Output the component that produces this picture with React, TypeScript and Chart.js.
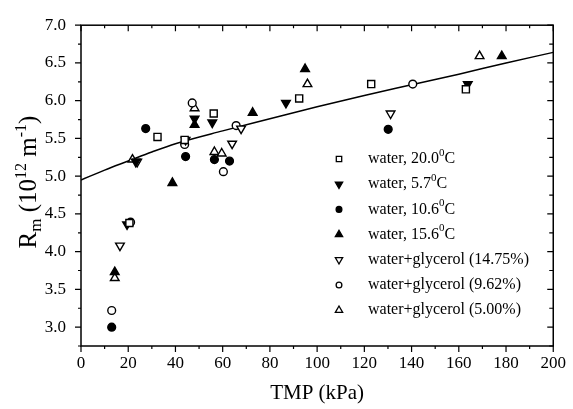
import React, { useEffect, useRef } from "react";
import { Chart, registerables } from "chart.js";

Chart.register(...registerables);

const FONT = "'Liberation Serif', 'Times New Roman', serif";

const X_TICKS = [0, 20, 40, 60, 80, 100, 120, 140, 160, 180, 200];
const Y_TICKS = [3.0, 3.5, 4.0, 4.5, 5.0, 5.5, 6.0, 6.5, 7.0];

// water, 20.0 °C (open square)
const water20_x = [20.5, 32.4, 43.9, 56.2, 92.4, 122.9, 163.0];
const water20_y = [4.38, 5.52, 5.48, 5.83, 6.03, 6.22, 6.15];
// water, 5.7 °C (filled down triangle)
const water57_x = [19.5, 23.2, 48.1, 55.6, 86.8, 163.8];
const water57_y = [4.36, 5.19, 5.76, 5.71, 5.97, 6.22];
// water, 10.6 °C (filled circle)
const water106_x = [13.0, 27.4, 44.3, 56.5, 62.9, 130.1];
const water106_y = [3.0, 5.63, 5.26, 5.22, 5.2, 5.62];
// water, 15.6 °C (filled up triangle)
const water156_x = [14.3, 38.7, 48.1, 72.7, 94.9, 178.2];
const water156_y = [3.73, 4.91, 5.68, 5.84, 6.42, 6.59];
// water+glycerol 14.75 % (open down triangle)
const gly1475_x = [16.5, 23.8, 44.3, 64.0, 67.8, 131.1];
const gly1475_y = [4.08, 5.19, 5.48, 5.43, 5.63, 5.83];
// water+glycerol 9.62 % (open circle)
const gly962_x = [13.0, 21.0, 43.9, 47.1, 60.3, 65.7, 140.5];
const gly962_y = [3.22, 4.39, 5.42, 5.97, 5.06, 5.67, 6.22];
// water+glycerol 5.00 % (open up triangle)
const gly500_x = [14.3, 21.8, 48.1, 56.5, 59.6, 95.9, 168.8];
const gly500_y = [3.65, 5.22, 5.9, 5.32, 5.3, 6.22, 6.59];

// fitted curve
const FIT_X = [0, 10, 20, 30, 40, 60, 80, 100, 120, 140, 160, 180, 200];
const FIT_Y = [4.95, 5.08, 5.2, 5.32, 5.43, 5.6, 5.76, 5.92, 6.07, 6.21, 6.35, 6.5, 6.64];

type Shape = "rect" | "circle" | "up" | "down";

const SERIES: { label: string; sup: string; tail: string; xs: number[]; ys: number[]; shape: Shape; filled: boolean }[] = [
  { label: "water, 20.0", sup: "0", tail: "C", xs: water20_x, ys: water20_y, shape: "rect", filled: false },
  { label: "water, 5.7", sup: "0", tail: "C", xs: water57_x, ys: water57_y, shape: "down", filled: true },
  { label: "water, 10.6", sup: "0", tail: "C", xs: water106_x, ys: water106_y, shape: "circle", filled: true },
  { label: "water, 15.6", sup: "0", tail: "C", xs: water156_x, ys: water156_y, shape: "up", filled: true },
  { label: "water+glycerol (14.75%)", sup: "", tail: "", xs: gly1475_x, ys: gly1475_y, shape: "down", filled: false },
  { label: "water+glycerol (9.62%)", sup: "", tail: "", xs: gly962_x, ys: gly962_y, shape: "circle", filled: false },
  { label: "water+glycerol (5.00%)", sup: "", tail: "", xs: gly500_x, ys: gly500_y, shape: "up", filled: false },
];

function drawMarker(ctx: CanvasRenderingContext2D, shape: Shape, filled: boolean, x: number, y: number, s: number) {
  ctx.save();
  ctx.beginPath();
  if (shape === "rect") {
    ctx.rect(x - s * 0.75, y - s * 0.75, s * 1.5, s * 1.5);
  } else if (shape === "circle") {
    ctx.arc(x, y, s * 0.8, 0, Math.PI * 2);
  } else {
    const d = shape === "up" ? 1 : -1;
    ctx.moveTo(x, y - d * s);
    ctx.lineTo(x + s * 0.87, y + d * s * 0.5);
    ctx.lineTo(x - s * 0.87, y + d * s * 0.5);
    ctx.closePath();
  }
  ctx.fillStyle = filled ? "#000" : "#fff";
  ctx.fill();
  ctx.lineWidth = 1.3;
  ctx.strokeStyle = "#000";
  ctx.stroke();
  ctx.restore();
}

const decorPlugin = {
  id: "decor",
  afterDraw(chart: any) {
    const ctx: CanvasRenderingContext2D = chart.ctx;
    const { left, right, top, bottom } = chart.chartArea;
    const xs = chart.scales.x;
    const ys = chart.scales.y;
    ctx.save();
    ctx.strokeStyle = "#000";
    ctx.lineWidth = 1.5;
    ctx.strokeRect(left, top, right - left, bottom - top);
    ctx.lineWidth = 1.2;
    ctx.beginPath();
    for (let v = 0; v <= 200; v += 10) {
      const px = xs.getPixelForValue(v);
      const major = v % 20 === 0;
      const len = major ? 6 : 3;
      ctx.moveTo(px, bottom);
      ctx.lineTo(px, bottom + len);
      ctx.moveTo(px, top);
      ctx.lineTo(px, top + len);
    }
    for (let k = 0; k <= 17; k++) {
      const v = 2.75 + k * 0.25;
      const py = ys.getPixelForValue(v);
      const major = k % 2 === 1;
      ctx.moveTo(left, py);
      ctx.lineTo(left - (major ? 6 : 3), py);
      ctx.moveTo(right, py);
      ctx.lineTo(right - (major ? 6 : 4), py);
    }
    ctx.stroke();

    // legend
    ctx.fillStyle = "#000";
    ctx.textBaseline = "middle";
    SERIES.forEach((s, i) => {
      const y = 159 + i * 25.2;
      drawMarker(ctx, s.shape, s.filled, 339, y, s.shape === "rect" || s.shape === "circle" ? 3.6 : 4.2);
      ctx.font = `16px ${FONT}`;
      let x = 368;
      ctx.textAlign = "left";
      ctx.fillText(s.label, x, y);
      x += ctx.measureText(s.label).width;
      if (s.sup) {
        ctx.font = `11px ${FONT}`;
        ctx.fillText(s.sup, x, y - 6);
        x += ctx.measureText(s.sup).width;
        ctx.font = `16px ${FONT}`;
        ctx.fillText(s.tail, x, y);
      }
    });

    // x title
    ctx.font = `21px ${FONT}`;
    ctx.textAlign = "center";
    ctx.textBaseline = "alphabetic";
    ctx.fillText("TMP (kPa)", (left + right) / 2, 399);

    // y title (rotated)
    const parts = [
      { t: "R", size: 25, dy: 0 },
      { t: "m", size: 17, dy: 5 },
      { t: " (10", size: 25, dy: 0 },
      { t: "12", size: 16, dy: -10 },
      { t: " m", size: 25, dy: 0 },
      { t: "-1", size: 16, dy: -10 },
      { t: ")", size: 25, dy: 0 },
    ];
    let total = 0;
    parts.forEach((p) => {
      ctx.font = `${p.size}px ${FONT}`;
      total += ctx.measureText(p.t).width;
    });
    ctx.translate(36, 182);
    ctx.rotate(-Math.PI / 2);
    ctx.textAlign = "left";
    let cx = -total / 2;
    parts.forEach((p) => {
      ctx.font = `${p.size}px ${FONT}`;
      ctx.fillText(p.t, cx, p.dy);
      cx += ctx.measureText(p.t).width;
    });
    ctx.restore();
  },
};

export default function App() {
  const ref = useRef<HTMLCanvasElement | null>(null);
  useEffect(() => {
    document.body.style.margin = "0";
    if (!ref.current) return;
    const styleFor = (shape: Shape, filled: boolean) => ({
      pointStyle: shape === "rect" ? "rect" : shape === "circle" ? "circle" : "triangle",
      rotation: shape === "down" ? 180 : 0,
      pointRadius: shape === "rect" ? 5 : shape === "circle" ? 3.9 : 5,
      pointBackgroundColor: filled ? "#000" : "#fff",
      pointBorderColor: "#000",
      pointBorderWidth: 1.4,
    });
    const datasets: any[] = SERIES.map((s) => ({
      type: "scatter",
      label: s.label,
      data: s.xs.map((x, i) => ({ x, y: s.ys[i] })),
      showLine: false,
      ...styleFor(s.shape, s.filled),
      order: 1,
    }));
    datasets.push({
      type: "line",
      label: "fit",
      data: FIT_X.map((x, i) => ({ x, y: FIT_Y[i] })),
      borderColor: "#000",
      borderWidth: 1.5,
      pointRadius: 0,
      cubicInterpolationMode: "monotone",
      fill: false,
      order: 10,
    });
    const chart = new Chart(ref.current, {
      type: "scatter",
      data: { datasets },
      plugins: [decorPlugin],
      options: {
        animation: false,
        responsive: false,
        devicePixelRatio: 1,
        layout: { padding: { top: 12, right: 18, left: 0, bottom: 0 } },
        plugins: { legend: { display: false }, tooltip: { enabled: false } },
        scales: {
          x: {
            type: "linear",
            min: 0,
            max: 200,
            afterBuildTicks: (s: any) => {
              s.ticks = X_TICKS.map((v) => ({ value: v }));
            },
            afterFit: (s: any) => {
              s.height = 63;
            },
            grid: { display: false, drawTicks: false },
            border: { display: false },
            ticks: {
              color: "#000",
              font: { family: FONT, size: 17 },
              padding: 7,
              maxRotation: 0,
              autoSkip: false,
              callback: (v: any) => String(v),
            },
          },
          y: {
            type: "linear",
            min: 2.75,
            max: 7.0,
            afterBuildTicks: (s: any) => {
              s.ticks = Y_TICKS.map((v) => ({ value: v }));
            },
            afterFit: (s: any) => {
              s.width = 81;
            },
            grid: { display: false, drawTicks: false },
            border: { display: false },
            ticks: {
              color: "#000",
              font: { family: FONT, size: 17 },
              padding: 15,
              autoSkip: false,
              callback: (v: any) => Number(v).toFixed(1),
            },
          },
        },
      } as any,
    });
    return () => chart.destroy();
  }, []);
  return (
    <div style={{ position: "absolute", left: 0, top: 0, width: 573, height: 409 }}>
      <canvas ref={ref} width={573} height={409} style={{ width: 573, height: 409, display: "block" }} />
    </div>
  );
}
